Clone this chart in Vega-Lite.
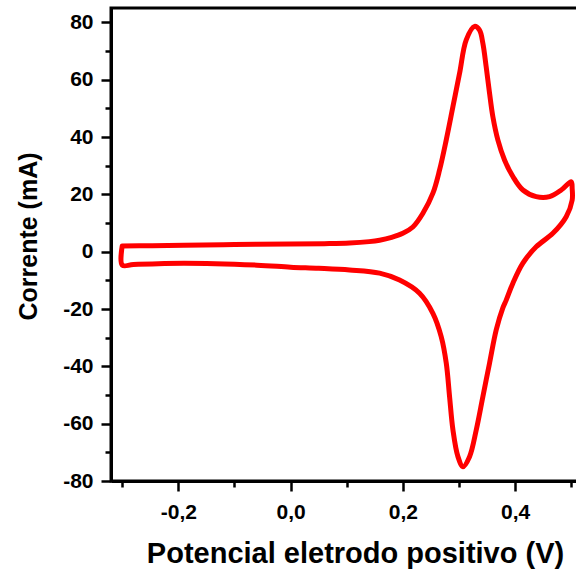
{
  "$schema": "https://vega.github.io/schema/vega-lite/v6.json",
  "width": 467,
  "height": 473,
  "autosize": "none",
  "padding": {"left": 111, "top": 8, "right": 0, "bottom": 88},
  "background": "white",
  "config": {"view": {"stroke": "black", "strokeWidth": 3}, "font": "Liberation Sans"},
  "data": {"values": [
    {"i": 1, "E": -0.300, "I": 2.0},
    {"i": 2, "E": -0.25, "I": 2.1},
    {"i": 3, "E": -0.19, "I": 2.2},
    {"i": 4, "E": -0.10, "I": 2.5},
    {"i": 5, "E": 0.00, "I": 2.7},
    {"i": 6, "E": 0.06, "I": 2.8},
    {"i": 7, "E": 0.105, "I": 3.0},
    {"i": 8, "E": 0.14, "I": 3.5},
    {"i": 9, "E": 0.1585, "I": 4.0},
    {"i": 10, "E": 0.18, "I": 5.0},
    {"i": 11, "E": 0.2, "I": 6.4},
    {"i": 12, "E": 0.2178, "I": 8.6},
    {"i": 13, "E": 0.2357, "I": 13.4},
    {"i": 14, "E": 0.2535, "I": 20.4},
    {"i": 15, "E": 0.2654, "I": 28.5},
    {"i": 16, "E": 0.2773, "I": 39},
    {"i": 17, "E": 0.2892, "I": 50.6},
    {"i": 18, "E": 0.301, "I": 62.2},
    {"i": 19, "E": 0.3129, "I": 73.9},
    {"i": 20, "E": 0.3277, "I": 78.6},
    {"i": 21, "E": 0.3366, "I": 77.3},
    {"i": 22, "E": 0.3425, "I": 72.7},
    {"i": 23, "E": 0.3484, "I": 64.5},
    {"i": 24, "E": 0.3544, "I": 55.3},
    {"i": 25, "E": 0.3603, "I": 47.1},
    {"i": 26, "E": 0.3692, "I": 39},
    {"i": 27, "E": 0.3811, "I": 32},
    {"i": 28, "E": 0.396, "I": 26.2},
    {"i": 29, "E": 0.4138, "I": 21.5},
    {"i": 30, "E": 0.4375, "I": 19.2},
    {"i": 31, "E": 0.4613, "I": 19.2},
    {"i": 32, "E": 0.4821, "I": 21.5},
    {"i": 33, "E": 0.4999, "I": 24.4},
    {"i": 34, "E": 0.5016, "I": 22},
    {"i": 35, "E": 0.5016, "I": 18},
    {"i": 36, "E": 0.491, "I": 12.2},
    {"i": 37, "E": 0.4672, "I": 6.4},
    {"i": 38, "E": 0.4375, "I": 1.7},
    {"i": 39, "E": 0.4138, "I": -4.0},
    {"i": 40, "E": 0.396, "I": -11},
    {"i": 41, "E": 0.3841, "I": -16.9},
    {"i": 42, "E": 0.3781, "I": -19.6},
    {"i": 43, "E": 0.3663, "I": -27.3},
    {"i": 44, "E": 0.3544, "I": -38.9},
    {"i": 45, "E": 0.3425, "I": -50.6},
    {"i": 46, "E": 0.3307, "I": -62.2},
    {"i": 47, "E": 0.3188, "I": -71.5},
    {"i": 48, "E": 0.307, "I": -75},
    {"i": 49, "E": 0.2981, "I": -71.5},
    {"i": 50, "E": 0.2892, "I": -62.2},
    {"i": 51, "E": 0.2832, "I": -50.6},
    {"i": 52, "E": 0.2773, "I": -38.9},
    {"i": 53, "E": 0.2684, "I": -29.7},
    {"i": 54, "E": 0.2535, "I": -21.5},
    {"i": 55, "E": 0.2297, "I": -14.5},
    {"i": 56, "E": 0.1941, "I": -9.9},
    {"i": 57, "E": 0.1585, "I": -7.5},
    {"i": 58, "E": 0.105, "I": -6.4},
    {"i": 59, "E": 0.05, "I": -5.8},
    {"i": 60, "E": 0.0, "I": -5.4},
    {"i": 61, "E": -0.06, "I": -4.7},
    {"i": 62, "E": -0.19, "I": -4.0},
    {"i": 63, "E": -0.28, "I": -4.5},
    {"i": 64, "E": -0.300, "I": -4.7},
    {"i": 65, "E": -0.300, "I": 2.0}
  ]},
  "mark": {"type": "line", "color": "#ff0000", "strokeWidth": 5, "strokeJoin": "round", "strokeCap": "round", "clip": true, "interpolate": "catmull-rom"},
  "encoding": {
    "order": {"field": "i", "type": "quantitative"},
    "x": {
      "field": "E", "type": "quantitative",
      "scale": {"domain": [-0.32, 0.512], "nice": false, "zero": false},
      "axis": {
        "values": [-0.3, -0.2, -0.1, 0, 0.1, 0.2, 0.3, 0.4, 0.5],
        "labelExpr": "abs(round(datum.value*10)) % 2 == 0 ? (datum.value < -0.001 ? '-' : '') + replace(format(abs(datum.value), '.1f'), '.', ',') : ''",
        "grid": false,
        "domainColor": "black", "domainWidth": 3,
        "tickColor": "black", "tickWidth": 2.5,
        "tickSize": {"condition": {"test": "abs(round(datum.value*10)) % 2 == 1", "value": 6}, "value": 10},
        "labelFont": "Liberation Sans", "labelFontSize": 21, "labelFontWeight": "bold", "labelColor": "black",
        "labelPadding": 10, "labelOverlap": false, "labelFlush": false,
        "title": "Potencial eletrodo positivo (V)",
        "titleFont": "Liberation Sans", "titleFontSize": 29, "titleFontWeight": "bold", "titleColor": "black",
        "titleX": 244, "titleY": 81, "titleAlign": "center", "titleBaseline": "alphabetic"
      }
    },
    "y": {
      "field": "I", "type": "quantitative",
      "scale": {"domain": [-80, 85], "nice": false, "zero": false},
      "axis": {
        "values": [-80, -70, -60, -50, -40, -30, -20, -10, 0, 10, 20, 30, 40, 50, 60, 70, 80],
        "labelExpr": "datum.value % 20 == 0 ? (datum.value < 0 ? '-' : '') + abs(datum.value) : ''",
        "grid": false,
        "domainColor": "black", "domainWidth": 3,
        "tickColor": "black", "tickWidth": 2.5,
        "tickSize": {"condition": {"test": "datum.value % 20 != 0", "value": 6}, "value": 10},
        "labelFont": "Liberation Sans", "labelFontSize": 21, "labelFontWeight": "bold", "labelColor": "black",
        "labelPadding": 8, "labelOverlap": false, "labelFlush": false,
        "title": "Corrente (mA)",
        "titleFont": "Liberation Sans", "titleFontSize": 25, "titleFontWeight": "bold", "titleColor": "black",
        "titleX": -83, "titleY": 228, "titleAngle": -90, "titleAlign": "center", "titleBaseline": "middle"
      }
    }
  }
}
